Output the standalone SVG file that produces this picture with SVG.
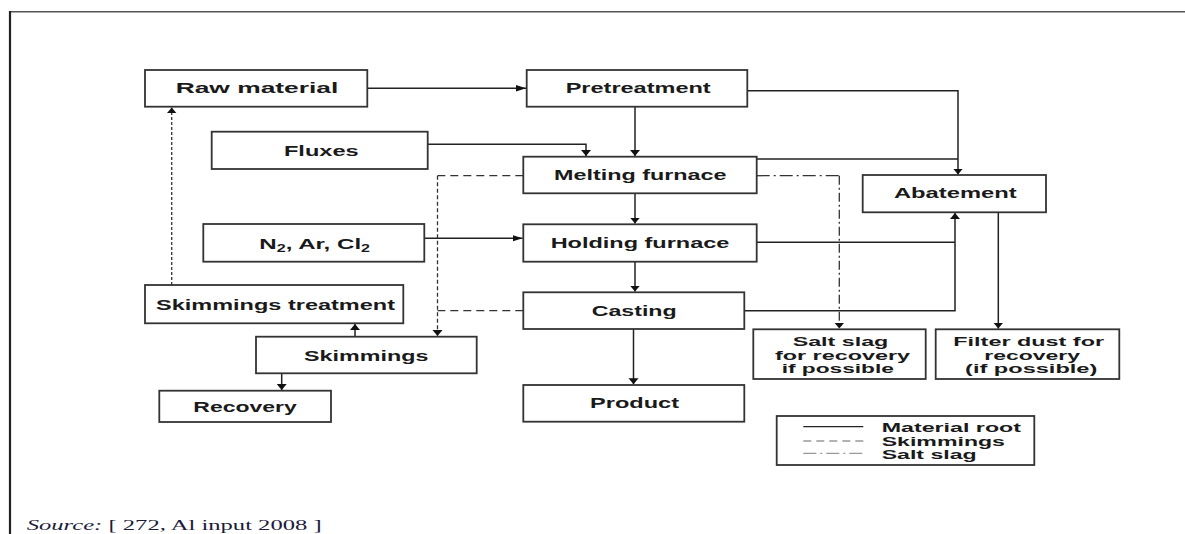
<svg xmlns="http://www.w3.org/2000/svg" width="1185" height="534" viewBox="0 0 1185 534">
<style>
.box{fill:#fff;stroke:#333;stroke-width:1.8}
.t{font-family:"Liberation Sans",Arial,sans-serif;font-weight:bold;font-size:15px;fill:#1a1a1a;text-anchor:middle}
.s{font-size:13.5px}
.l{text-anchor:start}
.c{fill:none;stroke:#222;stroke-width:1.5}
.dsh{fill:none;stroke:#333;stroke-width:1.3}
</style>
<defs>
<marker id="ah" markerUnits="userSpaceOnUse" markerWidth="11" markerHeight="8" refX="10" refY="3.2" orient="auto"><path d="M0,0 L10,3.2 L0,6.4 z" fill="#111"/></marker>
<marker id="av" markerUnits="userSpaceOnUse" markerWidth="10" markerHeight="11" refX="6" refY="5" orient="auto"><path d="M0,0 L6,5 L0,10 z" fill="#111"/></marker>
</defs>
<rect width="1185" height="534" fill="#fff"/>
<g id="frame">
<line x1="9" y1="11.7" x2="1185" y2="11.7" stroke="#555" stroke-width="1.6"/>
<line x1="10" y1="11" x2="10" y2="534" stroke="#222" stroke-width="2.2"/>
</g>
<g id="connectors">
<path class="c" d="M367.3,88.3 H526" marker-end="url(#ah)"/>
<path class="c" d="M635,106.7 V156" marker-end="url(#av)"/>
<path class="c" d="M427.7,144.3 H586 V156" marker-end="url(#av)"/>
<path class="c" d="M747.3,90.7 H958 V174.5" marker-end="url(#av)"/>
<path class="c" d="M756.7,159 H958"/>
<path class="c" d="M635,193.3 V223.6" marker-end="url(#av)"/>
<path class="c" d="M424.3,238.3 H522.6" marker-end="url(#ah)"/>
<path class="c" d="M635,261.7 V291.6" marker-end="url(#av)"/>
<path class="c" d="M756.7,242.3 H955"/>
<path class="c" d="M744.3,310.7 H955 V213" marker-end="url(#av)"/>
<path class="c" d="M633.5,329 V384.3" marker-end="url(#av)"/>
<path class="c" d="M998.3,212.3 V328.6" marker-end="url(#av)"/>
<path class="dsh" d="M756.7,175.7 H839.3" stroke-dasharray="13 4 2 4"/>
<path class="dsh" d="M839.3,175.7 V328.6" stroke-dasharray="9 3 2 3" marker-end="url(#av)"/>
<path class="dsh" d="M523.3,175.7 H437.5" stroke-dasharray="8 5"/>
<path class="dsh" d="M437.5,175.7 V336" stroke-dasharray="4 2.5" stroke-width="1.6" marker-end="url(#av)"/>
<path class="dsh" d="M523.3,310.7 H437.5" stroke-dasharray="8 5"/>
<path class="c" d="M355,336.7 V324" marker-end="url(#av)"/>
<path class="c" d="M281.7,373.3 V390" marker-end="url(#av)"/>
<path class="dsh" d="M171.7,285 V107.4" stroke-dasharray="3 2" stroke-width="1.8" marker-end="url(#av)"/>
</g>
<g id="raw-material"><rect class="box" x="145" y="70" width="222.3" height="36.7"/><text class="t" x="257" y="93.3" textLength="162.7" lengthAdjust="spacingAndGlyphs">Raw material</text></g>
<g id="pretreatment"><rect class="box" x="526.7" y="70" width="220.6" height="36.7"/><text class="t" x="638.2" y="93.3" textLength="145" lengthAdjust="spacingAndGlyphs">Pretreatment</text></g>
<g id="fluxes"><rect class="box" x="211.7" y="131.7" width="216" height="37.3"/><text class="t" x="321.3" y="155.7" textLength="74.7" lengthAdjust="spacingAndGlyphs">Fluxes</text></g>
<g id="melting-furnace"><rect class="box" x="523.3" y="156.7" width="233.4" height="36.6"/><text class="t" x="640.3" y="180" textLength="172.7" lengthAdjust="spacingAndGlyphs">Melting furnace</text></g>
<g id="gases"><rect class="box" x="203.3" y="224" width="221" height="37.7"/><text class="t" x="314.7" y="249.3" textLength="110.7" lengthAdjust="spacingAndGlyphs">N<tspan font-size="10" dy="3">2</tspan><tspan dy="-3">, Ar, Cl</tspan><tspan font-size="10" dy="3">2</tspan></text></g>
<g id="abatement"><rect class="box" x="862.7" y="175" width="183.3" height="37.3"/><text class="t" x="955.3" y="198.3" textLength="122.7" lengthAdjust="spacingAndGlyphs">Abatement</text></g>
<g id="holding-furnace"><rect class="box" x="523.3" y="224.3" width="233.4" height="37.4"/><text class="t" x="640" y="248.3" textLength="178.7" lengthAdjust="spacingAndGlyphs">Holding furnace</text></g>
<g id="skimmings-treatment"><rect class="box" x="145" y="285" width="258.3" height="38.3"/><text class="t" x="275.5" y="310" textLength="239" lengthAdjust="spacingAndGlyphs">Skimmings treatment</text></g>
<g id="casting"><rect class="box" x="523.3" y="292.3" width="221" height="36.7"/><text class="t" x="634.2" y="316" textLength="85" lengthAdjust="spacingAndGlyphs">Casting</text></g>
<g id="skimmings"><rect class="box" x="256" y="336.7" width="220.7" height="36.6"/><text class="t" x="366.2" y="360.7" textLength="124.3" lengthAdjust="spacingAndGlyphs">Skimmings</text></g>
<g id="salt-slag"><rect class="box" x="753.3" y="329.3" width="172.4" height="49.7"/>
<text class="t s" x="840.5" y="345.7" textLength="95.7" lengthAdjust="spacingAndGlyphs">Salt slag</text>
<text class="t s" x="842.5" y="359.5" textLength="135" lengthAdjust="spacingAndGlyphs">for recovery</text>
<text class="t s" x="837.8" y="373.3" textLength="112.3" lengthAdjust="spacingAndGlyphs">if possible</text></g>
<g id="filter-dust"><rect class="box" x="935.7" y="329.3" width="183.6" height="49.7"/>
<text class="t s" x="1028.7" y="345.7" textLength="150.7" lengthAdjust="spacingAndGlyphs">Filter dust for</text>
<text class="t s" x="1032.2" y="359.5" textLength="95.7" lengthAdjust="spacingAndGlyphs">recovery</text>
<text class="t s" x="1031.2" y="373.3" textLength="132.3" lengthAdjust="spacingAndGlyphs">(if possible)</text></g>
<g id="recovery"><rect class="box" x="159.3" y="390.7" width="171.7" height="31.3"/><text class="t" x="245" y="411.7" textLength="103.3" lengthAdjust="spacingAndGlyphs">Recovery</text></g>
<g id="product"><rect class="box" x="523.3" y="385" width="221" height="36.7"/><text class="t" x="634.5" y="408.3" textLength="89" lengthAdjust="spacingAndGlyphs">Product</text></g>
<g id="legend"><rect class="box" x="776.7" y="416" width="257.6" height="49"/>
<line x1="803.3" y1="426.7" x2="863.3" y2="426.7" stroke="#222" stroke-width="1.3"/>
<line x1="803.3" y1="441" x2="863.3" y2="441" stroke="#999" stroke-width="1.3" stroke-dasharray="8 5"/>
<line x1="803.3" y1="453.3" x2="863.3" y2="453.3" stroke="#999" stroke-width="1.3" stroke-dasharray="13 4 2 4"/>
<text class="t s l" x="881.7" y="431.7" textLength="139.3" lengthAdjust="spacingAndGlyphs">Material root</text>
<text class="t s l" x="881.7" y="446" textLength="123.3" lengthAdjust="spacingAndGlyphs">Skimmings</text>
<text class="t s l" x="881.7" y="459.3" textLength="95" lengthAdjust="spacingAndGlyphs">Salt slag</text></g>
<text x="26.7" y="530" font-family="'Liberation Serif','Times New Roman',serif" font-size="14" fill="#1c1c3a" textLength="295" lengthAdjust="spacingAndGlyphs"><tspan font-style="italic">Source:</tspan> [ 272, Al input 2008 ]</text>
</svg>
